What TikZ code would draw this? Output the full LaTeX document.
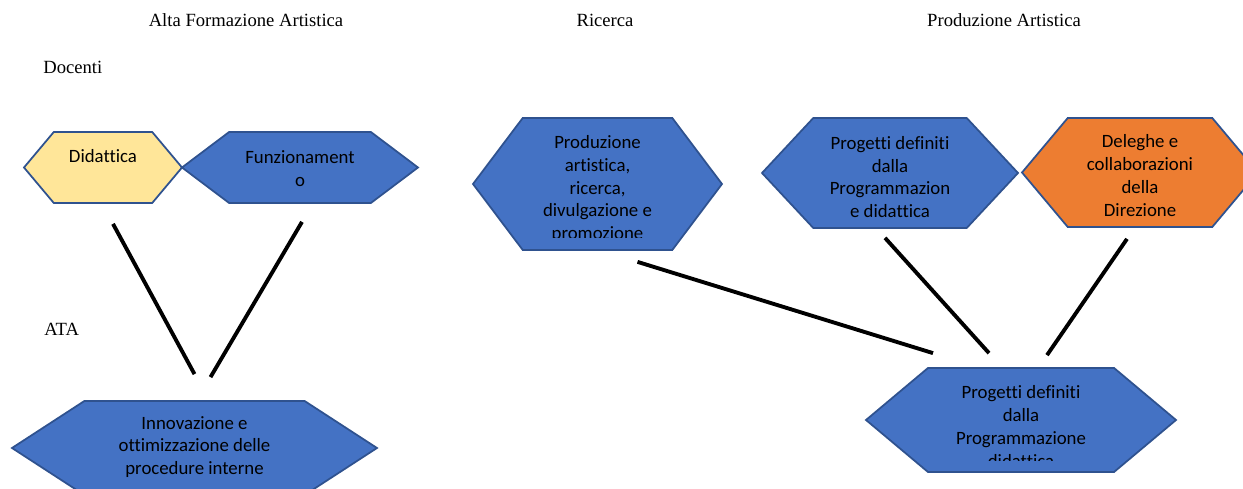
\documentclass[tikz,border=0pt]{standalone}
\usepackage{fontspec}
\setmainfont{Liberation Serif}
\newfontfamily\hexfont[Ligatures={NoCommon}]{Carlito}
\usepackage{tikz}
\usetikzlibrary{shapes.symbols, calc, positioning}

\definecolor{hexblue}{HTML}{4472C4}
\definecolor{hexline}{HTML}{2F528F}
\definecolor{hexorange}{HTML}{ED7D31}
\definecolor{hexyellow}{HTML}{FFE699}

\newcommand{\pxu}{0.02cm}

\begin{document}
\begin{tikzpicture}[x=0.02cm, y=-0.02cm, link/.style = {line width=2.2pt}]
		\tikzset{hexa/.style={signal, signal to=east and west, draw=hexline, line width=1pt, inner sep=0pt, fill=hexblue}}
		\tikzset{hextext/.style={align=center, inner sep=0pt, font=\hexfont\fontsize{10.7}{13}\selectfont}}
		\tikzset{heading/.style={inner sep=0pt, anchor=base, font=\fontsize{10.6}{12}\selectfont}}

		\path[use as bounding box, clip] (0,0) rectangle (1243,489);

		% Headings
		\node[heading] (afa) at (246,27) {Alta Formazione Artistica};

		\node[heading] (ricerca) at (605,27) {Ricerca};

		\node[heading] (prodart) at (1004,27) {Produzione Artistica};

		\node[heading, anchor=base west] (docenti) at (43,74) {Docenti};

		\node[heading, anchor=base west] (ata) at (44,336) {ATA};

		% Top row
		\node[hexa, fill=hexyellow, minimum width=158*\pxu, minimum height=71*\pxu, signal pointer angle=100] (did) at (103,167.5) {};
		\node[hextext] (didtxt) at ($(did)+(0,-11.5)$) {Didattica};

		\node[hexa, minimum width=236*\pxu, minimum height=71*\pxu, signal pointer angle=74] (funz) at (300,167.5) {};
		\node[hextext] (funztxt) at ($(funz)+(0,1)$) {Funzionament\\o};

		\node[hexa, minimum width=249*\pxu, minimum height=132*\pxu, signal pointer angle=106] (prod) at (597.5,184) {};
		\begin{scope}
			\clip (470,110) rectangle (725,238);
			\node[hextext] (prodtxt) at ($(prod)+(0,5)$) {Produzione\\artistica,\\ricerca,\\divulgazione e\\promozione};
		\end{scope}

		\node[hexa, minimum width=256*\pxu, minimum height=110*\pxu, signal pointer angle=94] (prog) at (890,173) {};
		\node[hextext] (progtxt) at ($(prog)+(0,4)$) {Progetti definiti\\dalla\\Programmazion\\e didattica};

		\node[hexa, fill=hexorange, minimum width=236*\pxu, minimum height=109*\pxu, signal pointer angle=100] (dele) at (1140,172.5) {};
		\node[hextext] (deletxt) at ($(dele)+(0,3)$) {Deleghe e\\collaborazioni\\della\\Direzione};

		% Bottom row
		\node[hexa, minimum width=365*\pxu, minimum height=94*\pxu, signal pointer angle=66] (inno) at (194.5,448) {};
		\node[hextext] (innotxt) at ($(inno)+(0,-1)$) {Innovazione e\\ottimizzazione delle\\procedure interne};

		\node[hexa, minimum width=310*\pxu, minimum height=104*\pxu, signal pointer angle=80] (prog2) at (1021,420) {};
		\begin{scope}
			\clip (860,360) rectangle (1180,460);
			\node[hextext] (prog2txt) at ($(prog2)+(0,6.5)$) {Progetti definiti\\dalla\\Programmazione\\didattica};
		\end{scope}

		% Connector ends
		\coordinate (didout) at ($(did.south)+(10,20)$);
		\coordinate (funzout) at ($(funz.south)+(2,18)$);
		\coordinate (prodout) at ($(prod.south)+(40,11)$);
		\coordinate (progout) at ($(prog.south)+(-5,9)$);
		\coordinate (deleout) at ($(dele.south)+(-13,11)$);

		\coordinate (innoin1) at ($(inno.north)+(0,-26)$);
		\coordinate (innoin2) at ($(inno.north)+(16,-23)$);
		\coordinate (prog2in1) at ($(prog2.north)+(-88,-14)$);
		\coordinate (prog2in2) at ($(prog2.north)+(-32,-14)$);
		\coordinate (prog2in3) at ($(prog2.north)+(26,-12)$);

		% Lines
		\draw [link] (didout) -- (innoin1);
		\draw [link] (funzout) -- (innoin2);
		\draw [link] (prodout) -- (prog2in1);
		\draw [link] (progout) -- (prog2in2);
		\draw [link] (deleout) -- (prog2in3);

	\end{tikzpicture}
\end{document}
